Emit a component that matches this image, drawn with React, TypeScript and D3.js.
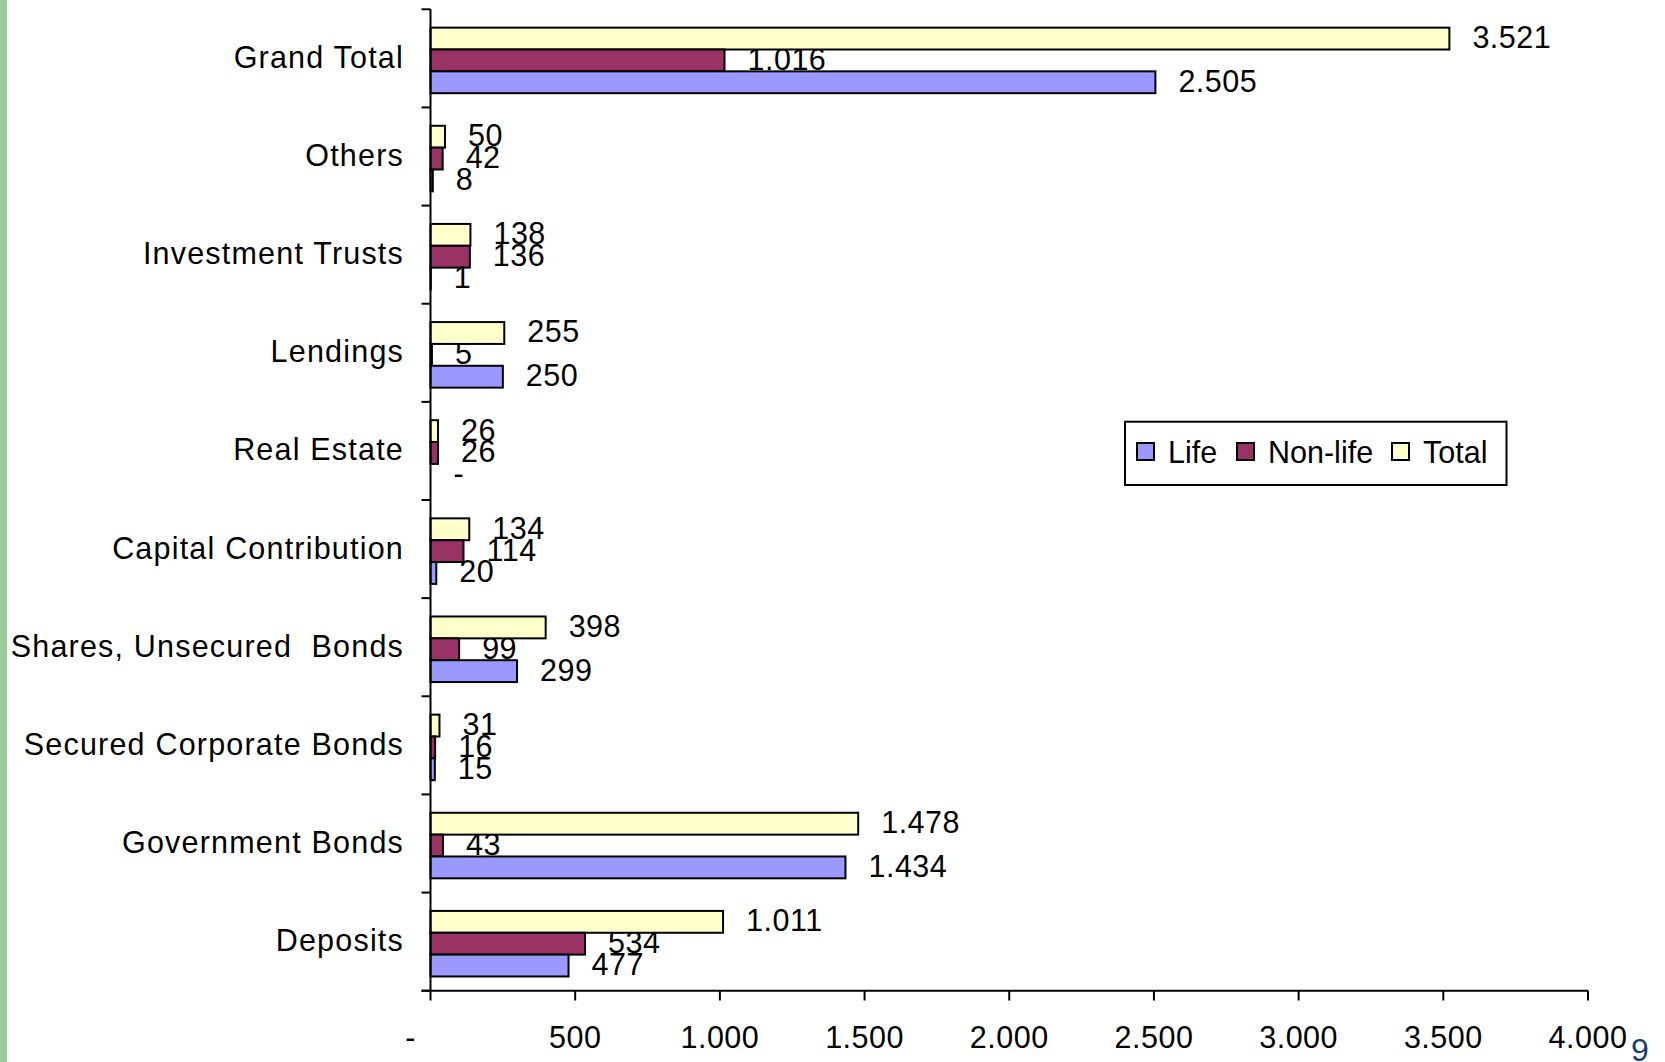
import React from 'react';
import * as d3 from 'd3';

const categories = [
  'Grand Total',
  'Others',
  'Investment Trusts',
  'Lendings',
  'Real Estate',
  'Capital Contribution',
  'Shares, Unsecured  Bonds',
  'Secured Corporate Bonds',
  'Government Bonds',
  'Deposits',
];
const lifeValues = [2505, 8, 1, 250, 0, 20, 299, 15, 1434, 477];
const nonLifeValues = [1016, 42, 136, 5, 26, 114, 99, 16, 43, 534];
const totalValues = [3521, 50, 138, 255, 26, 134, 398, 31, 1478, 1011];
const xTicks = [0, 500, 1000, 1500, 2000, 2500, 3000, 3500, 4000];
const seriesNames = ['Life', 'Non-life', 'Total'];
const seriesColors = ['#9999FF', '#993366', '#FFFFCC'];

const W = 1665;
const H = 1062;
const FONT = '"Liberation Sans", Arial, sans-serif';

const locale = d3.formatLocale({ decimal: ',', thousands: '.', grouping: [3], currency: ['', ''] });
const fmtInt = locale.format(',d');
const fmt = (v: number) => (v === 0 ? '-' : fmtInt(v));

export default function App() {
  const x = d3.scaleLinear().domain([0, 4000]).range([430.5, 1588]);
  const y = d3.scaleBand().domain(categories).range([9.3, 990.7]).padding(0);
  const bw = y.bandwidth();
  // bars drawn top to bottom: Total, Non-life, Life
  const inner = d3.scaleBand().domain(['Total', 'Non-life', 'Life']).range([bw * 0.187, bw * 0.855]);
  const bh = inner.bandwidth();

  const series = [
    { name: 'Life', values: lifeValues, color: seriesColors[0] },
    { name: 'Non-life', values: nonLifeValues, color: seriesColors[1] },
    { name: 'Total', values: totalValues, color: seriesColors[2] },
  ];

  const bars = (s: typeof series[0]) =>
    categories.map((c, i) => (
      <rect
        key={s.name + c}
        x={x(0)}
        y={(y(c) as number) + (inner(s.name) as number)}
        width={Math.max(0, x(s.values[i]) - x(0))}
        height={bh}
        fill={s.color}
        stroke="#000"
        strokeWidth={2}
      />
    ));

  const labels = (s: typeof series[0]) =>
    categories.map((c, i) => (
      <text
        key={'l' + s.name + c}
        x={x(s.values[i]) + 23}
        y={(y(c) as number) + (inner(s.name) as number) + bh / 2 + 9.5}
        fontSize={30.5}
        letterSpacing={0.5}
      >
        {fmt(s.values[i])}
      </text>
    ));

  const [life, nonLife, total] = series;

  // legend layout
  const legX = 1125;
  const legY = 421.7;
  const legItemX = [1137, 1237, 1392];

  return (
    <div style={{ position: 'absolute', left: 0, top: 0 }}>
      <svg width={W} height={H} style={{ display: 'block', background: '#fff' }} fontFamily={FONT}>
        <rect x={0} y={0} width={W} height={H} fill="#fff" />
        <rect x={0} y={0} width={7} height={H} fill="#99CC99" />

        {/* category labels */}
        {categories.map((c) => (
          <text
            key={c}
            x={404}
            y={(y(c) as number) + bw / 2 + 9.5}
            textAnchor="end"
            fontSize={30.5}
            letterSpacing={1.2}
            style={{ whiteSpace: 'pre' }}
          >
            {c}
          </text>
        ))}

        {labels(nonLife)}
        {bars(total)}
        {bars(nonLife)}
        {bars(life)}
        {labels(total)}
        {labels(life)}

        {/* y axis */}
        <line x1={x(0)} x2={x(0)} y1={9.3} y2={990.7} stroke="#000" strokeWidth={2} />
        {d3.range(categories.length + 1).map((i) => {
          const yy = 9.3 + i * bw;
          return <line key={'yt' + i} x1={x(0) - 9} x2={x(0)} y1={yy} y2={yy} stroke="#000" strokeWidth={2} />;
        })}

        {/* x axis */}
        <line x1={x(0) - 9} x2={x(4000)} y1={990.7} y2={990.7} stroke="#000" strokeWidth={2} />
        {xTicks.map((t) => (
          <g key={'xt' + t}>
            <line x1={x(t)} x2={x(t)} y1={990.7} y2={1000.5} stroke="#000" strokeWidth={2} />
            <text
              x={x(t) + (t === 0 ? -20 : 0)}
              y={1048.3}
              textAnchor="middle"
              fontSize={30.5}
              letterSpacing={0.5}
            >
              {fmt(t)}
            </text>
          </g>
        ))}

        {/* legend */}
        <rect x={legX} y={legY} width={381.5} height={63.3} fill="#fff" stroke="#000" strokeWidth={2} />
        {seriesNames.map((n, i) => (
          <g key={'leg' + n}>
            <rect x={legItemX[i]} y={443} width={17} height={17} fill={seriesColors[i]} stroke="#000" strokeWidth={2} />
            <text x={legItemX[i] + 31} y={463.3} fontSize={30.5}>
              {n}
            </text>
          </g>
        ))}

        {/* page number */}
        <text x={1631} y={1061} fontSize={32} fill="#17406E">
          9
        </text>
      </svg>
    </div>
  );
}
